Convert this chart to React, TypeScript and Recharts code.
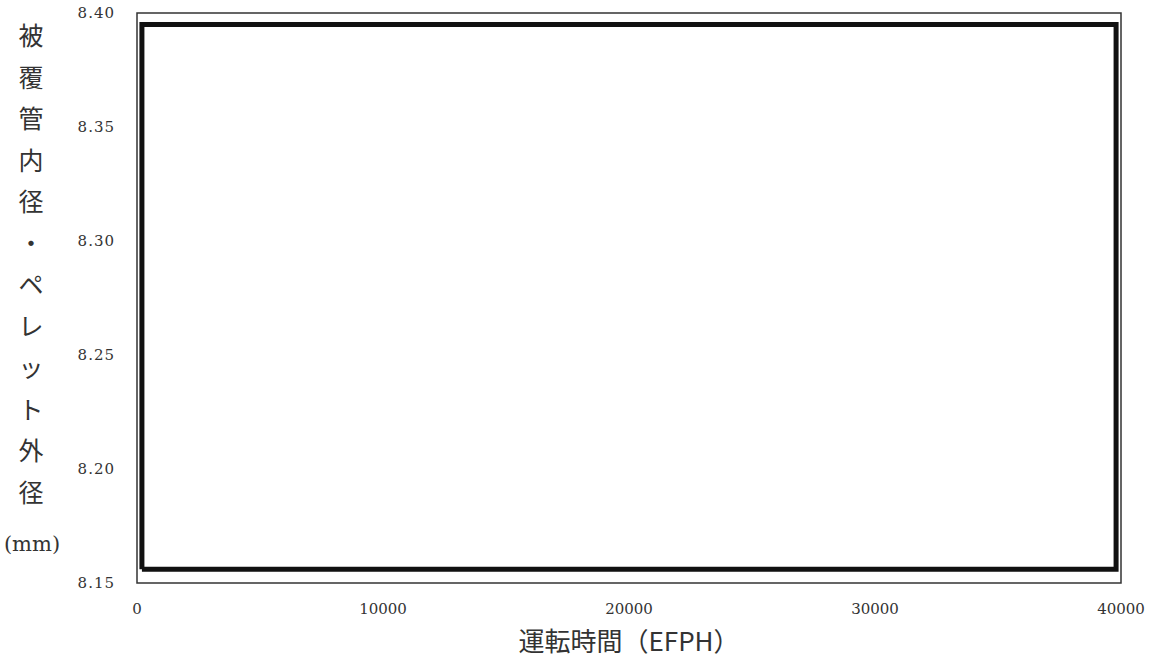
import { LineChart, Line, XAxis, YAxis, ReferenceArea } from 'recharts';

// 運転時間 (EFPH) at the corners of the traced curve
const hours = [200, 200, 39800, 39800, 200];
// 被覆管内径 (top) and ペレット外径 (bottom), mm
const diameters = [8.156, 8.395, 8.395, 8.156, 8.156];

const xTicks = [0, 10000, 20000, 30000, 40000];
const yTicks = [8.15, 8.2, 8.25, 8.3, 8.35, 8.4];

const yTitleChars = ['被', '覆', '管', '内', '径', '・', 'ペ', 'レ', 'ッ', 'ト', '外', '径'];
const yTitleUnit = '(mm)';
const xTitle = '運転時間（EFPH）';

const data = hours.map((h, i) => ({ h, v: diameters[i] }));

const serif = '"DejaVu Serif", "Liberation Serif", serif';
const jp = '"Noto Sans CJK JP", sans-serif';

function YTitle() {
  return (
    <g>
      {yTitleChars.map((c, i) => (
        <text
          key={i}
          x={31}
          y={34 + i * 41.5}
          textAnchor="middle"
          dominantBaseline="central"
          fontSize={25}
          fontFamily={jp}
          fill="#333"
        >
          {c}
        </text>
      ))}
      <text x={32} y={544} textAnchor="middle" dominantBaseline="central" fontSize={21} fontFamily={serif} fill="#333">
        {yTitleUnit}
      </text>
    </g>
  );
}

export default function App() {
  return (
    <div style={{ position: 'fixed', left: 0, top: 0, width: 1152, height: 660, background: '#fff' }}>
      <LineChart width={1152} height={660} data={data} margin={{ top: 13, right: 31, left: 0, bottom: 0 }}>
        <XAxis
          type="number"
          dataKey="h"
          domain={[0, 40000]}
          ticks={xTicks}
          allowDataOverflow
          axisLine={false}
          tickLine={false}
          tickSize={0}
          tickMargin={20}
          height={77}
          tick={{ fontSize: 15, fontFamily: serif, fill: '#333' }}
          label={{ value: xTitle, position: 'insideBottom', offset: 9, fontSize: 26, fontFamily: jp, fill: '#333' }}
        />
        <YAxis
          type="number"
          domain={[8.15, 8.4]}
          ticks={yTicks}
          allowDataOverflow
          axisLine={false}
          tickLine={false}
          tickSize={0}
          tickMargin={22}
          width={137}
          tickFormatter={(v: number) => v.toFixed(2)}
          tick={{ fontSize: 15, fontFamily: serif, fill: '#333', letterSpacing: 1 }}
          label={{ content: () => <YTitle /> }}
        />
        <ReferenceArea x1={0} x2={40000} y1={8.15} y2={8.4} fill="none" stroke="#333" strokeWidth={1.5} />
        <Line
          type="linear"
          dataKey="v"
          stroke="#111"
          strokeWidth={5}
          dot={false}
          activeDot={false}
          isAnimationActive={false}
        />
      </LineChart>
    </div>
  );
}
